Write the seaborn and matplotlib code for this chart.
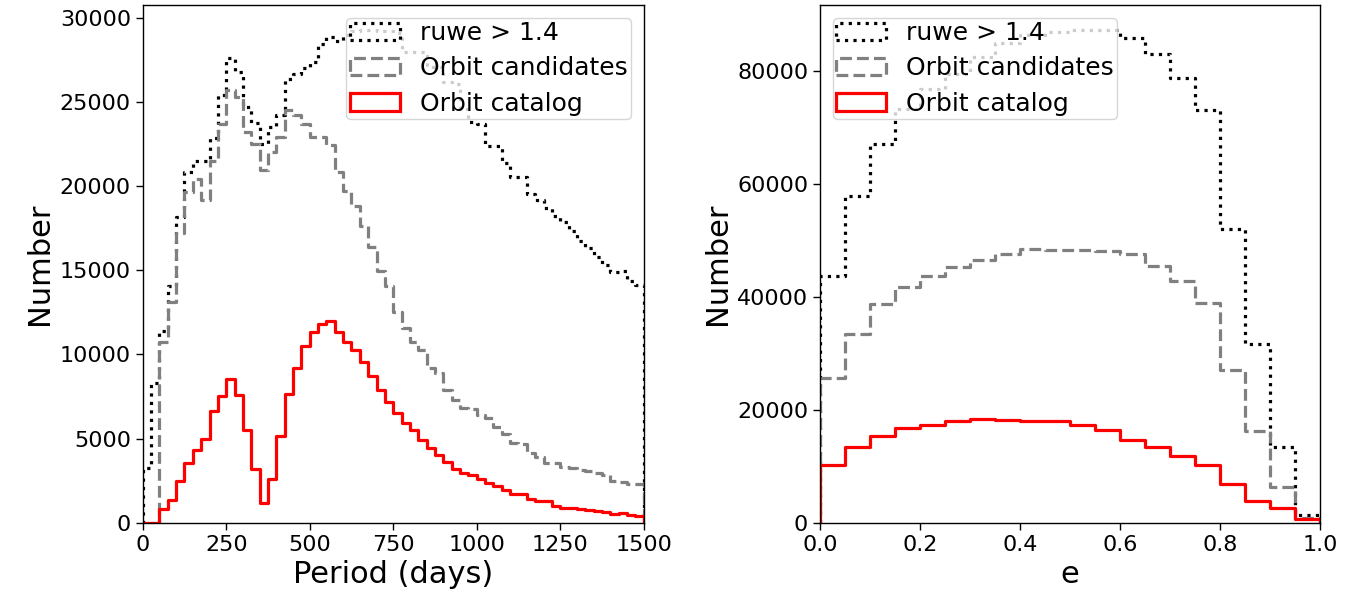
import numpy as np
import matplotlib
matplotlib.use("Agg")
import matplotlib.pyplot as plt
from matplotlib.patches import Patch
import seaborn as sns

# ---------------- data ----------------
period_edges = np.arange(0, 1500 + 25, 25)          # 60 bins of 25 days
ruwe_period = [3270, 8330, 11410, 14090, 18150, 20870, 21500, 21500, 22850, 25400,
               27600, 26800, 24730, 23750, 22500, 23500, 24230, 26360, 26640, 27000,
               27350, 28450, 28840, 28640, 29000, 29200, 29300, 29300, 29200, 29200,
               29100, 28000, 28000, 28000, 27100, 27100, 26200, 26100, 24600, 23800,
               23700, 22400, 22400, 21400, 20530, 20530, 19540, 19150, 18710, 18250,
               17860, 17360, 16770, 16310, 15770, 15320, 14880, 14980, 14380, 14130]
cand_period = [0, 0, 10710, 13130, 17220, 19650, 20420, 19170, 21500, 23700,
               25700, 25280, 23210, 22520, 20930, 22000, 22920, 24500, 24210, 23710,
               22920, 22920, 22420, 20830, 19740, 18850, 17660, 16370, 14980, 14060,
               12550, 11560, 10710, 10270, 9180, 8880, 7890, 7300, 6800, 6740,
               6400, 6210, 5710, 5270, 4720, 4680, 4160, 3930, 3530, 3530,
               3290, 3230, 3130, 3090, 2970, 2840, 2500, 2440, 2300, 2300]
cat_period = [0, 0, 830, 1350, 2480, 3530, 4310, 4960, 6650, 7540,
              8530, 7600, 5520, 3170, 1190, 2620, 5160, 7640, 9170, 10520,
              11350, 11800, 12000, 11310, 10750, 10280, 9560, 8730, 7880, 7190,
              6500, 5930, 5490, 4940, 4440, 4000, 3580, 3220, 2950, 2850,
              2610, 2360, 2180, 1960, 1700, 1700, 1410, 1300, 1300, 970,
              900, 900, 790, 750, 700, 610, 500, 550, 450, 400]

ecc_edges = np.linspace(0, 1, 21)                    # 20 bins of 0.05
ruwe_ecc = [43700, 58000, 67100, 73400, 76800, 79500, 82500, 85000, 86500, 87000,
            87400, 87400, 86000, 83000, 78900, 73200, 52100, 31700, 13400, 1400]
cand_ecc = [25600, 33500, 38700, 41800, 43700, 45400, 46600, 47700, 48500, 48300,
            48300, 48200, 47700, 45500, 42900, 38900, 27000, 16200, 6300, 900]
cat_ecc = [10200, 13400, 15300, 16700, 17400, 18000, 18400, 18200, 18100, 17950,
           17400, 16400, 14700, 13500, 11900, 10200, 6800, 3800, 2600, 600]

labels = ["ruwe > 1.4", "Orbit candidates", "Orbit catalog"]
period_ticks = [0, 250, 500, 750, 1000, 1250, 1500]
ecc_ticks = [0.0, 0.2, 0.4, 0.6, 0.8, 1.0]

# ---------------- style ----------------
sns.set_style("ticks")
plt.rcParams.update({
    "font.family": ["DejaVu Sans"],
    "axes.edgecolor": "black",
    "axes.labelcolor": "black",
    "text.color": "black",
    "xtick.color": "black",
    "ytick.color": "black",
    "axes.linewidth": 1.0,
})

styles = [dict(color="black", linestyle=":"),
          dict(color="gray", linestyle="--"),
          dict(color="red", linestyle="-")]
LW = 2.3


def padded(edges, counts):
    """Add an empty bin on each side so the step outline drops to zero at the ends."""
    w = edges[1] - edges[0]
    e = np.concatenate([[edges[0] - w], edges, [edges[-1] + w]])
    c = np.concatenate([[0], np.asarray(counts, float), [0]])
    centers = 0.5 * (e[:-1] + e[1:])
    return e, centers, c


def draw(ax, edges, series):
    for counts, st in zip(series, styles):
        e, centers, c = padded(edges, counts)
        sns.histplot(x=centers, weights=c, bins=list(e), element="step", fill=False,
                     linewidth=LW, ax=ax, **st)


fig = plt.figure(figsize=(13.57, 6.03), dpi=100)
W, H = 1357, 603
ax1 = fig.add_axes([142.7 / W, (H - 522.7) / H, (643.7 - 142.7) / W, (522.7 - 5) / H])
ax2 = fig.add_axes([820 / W, (H - 522.7) / H, (1320 - 820) / W, (522.7 - 5) / H])

draw(ax1, period_edges, [ruwe_period, cand_period, cat_period])
draw(ax2, ecc_edges, [ruwe_ecc, cand_ecc, cat_ecc])

ax1.set_xlim(0, 1500)
ax1.set_ylim(0, max(ruwe_period) * 1.05)
ax1.set_xticks(period_ticks)
ax1.set_yticks(np.arange(0, 30001, 5000))
ax1.set_xlabel("Period (days)", fontsize=22)
ax1.set_ylabel("Number", fontsize=22)

ax2.set_xlim(0, 1)
ax2.set_ylim(0, max(ruwe_ecc) * 1.05)
ax2.set_xticks(ecc_ticks)
ax2.set_yticks(np.arange(0, 80001, 20000))
ax2.set_xlabel("e", fontsize=22)
ax2.set_ylabel("Number", fontsize=22)

for ax in (ax1, ax2):
    ax.tick_params(labelsize=16, length=5, width=1)
    for s in ax.spines.values():
        s.set_visible(True)

handles = [Patch(facecolor="none", edgecolor=st["color"], linestyle=st["linestyle"],
                 linewidth=LW) for st in styles]
leg_kw = dict(fontsize=18, borderpad=0.14, labelspacing=0.45)
ax1.legend(handles, labels, loc="upper right", **leg_kw)
ax2.legend(handles, labels, loc="upper left", **leg_kw)

fig.savefig("out.png", dpi=100)
